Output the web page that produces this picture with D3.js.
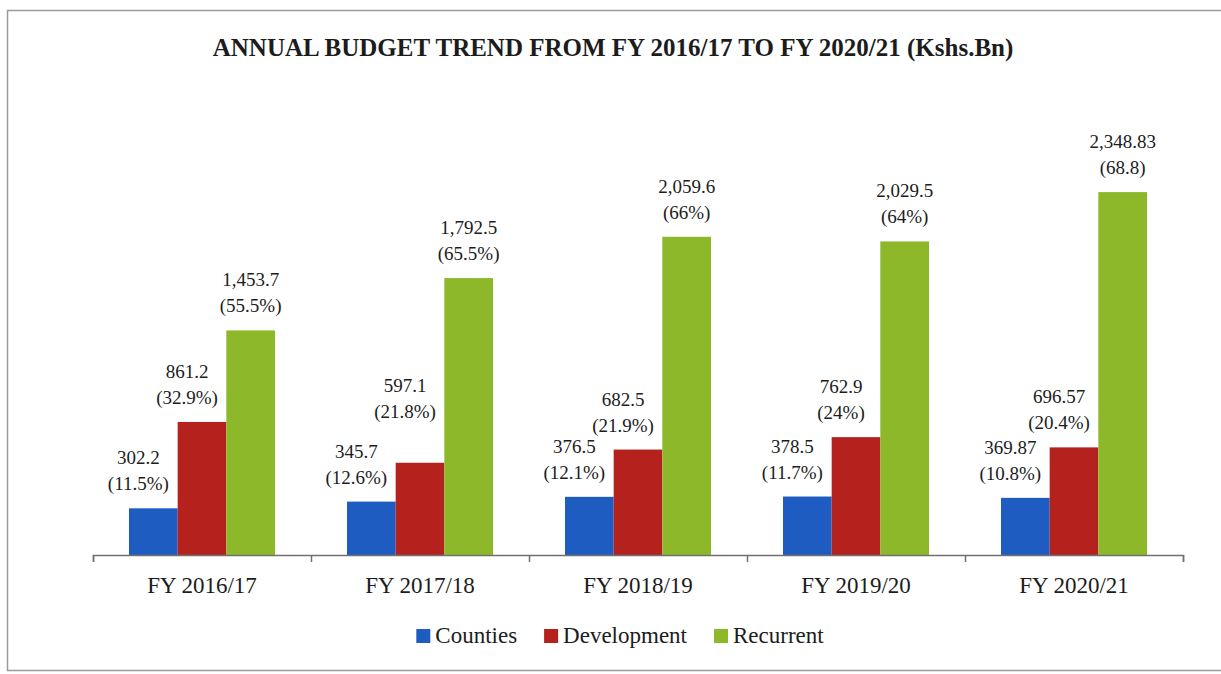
<!DOCTYPE html>
<html>
<head>
<meta charset="utf-8">
<script src="https://cdn.jsdelivr.net/npm/d3@7"></script>
<style>
  html, body { margin: 0; padding: 0; background: #fff; }
  svg { display: block; }
  text { font-family: "Liberation Serif", "DejaVu Serif", serif; fill: #1c1c1c; }
</style>
</head>
<body>
<svg id="chart" width="1221" height="674"></svg>
<script>
const years = ["FY 2016/17", "FY 2017/18", "FY 2018/19", "FY 2019/20", "FY 2020/21"];
const seriesNames = ["Counties", "Development", "Recurrent"];
const counties = [302.2, 345.7, 376.5, 378.5, 369.87];
const development = [861.2, 597.1, 682.5, 762.9, 696.57];
const recurrent = [1453.7, 1792.5, 2059.6, 2029.5, 2348.83];
const countiesLabels = ["302.2", "345.7", "376.5", "378.5", "369.87"];
const developmentLabels = ["861.2", "597.1", "682.5", "762.9", "696.57"];
const recurrentLabels = ["1,453.7", "1,792.5", "2,059.6", "2,029.5", "2,348.83"];
const countiesPct = ["(11.5%)", "(12.6%)", "(12.1%)", "(11.7%)", "(10.8%)"];
const developmentPct = ["(32.9%)", "(21.8%)", "(21.9%)", "(24%)", "(20.4%)"];
const recurrentPct = ["(55.5%)", "(65.5%)", "(66%)", "(64%)", "(68.8)"];
const colors = ["#1f5cc2", "#b5221e", "#8cb82a"];
const title = "ANNUAL BUDGET TREND FROM FY 2016/17 TO FY 2020/21 (Kshs.Bn)";

const values = [counties, development, recurrent];
const labels = [countiesLabels, developmentLabels, recurrentLabels];
const pcts = [countiesPct, developmentPct, recurrentPct];

const svg = d3.select("#chart");

// frame
svg.append("path")
  .attr("d", "M1225,10.5 H7.5 V670.5 H1225")
  .attr("fill", "none").attr("stroke", "#9a9a9a").attr("stroke-width", 1.5);

svg.append("text")
  .attr("x", 613).attr("y", 56)
  .attr("text-anchor", "middle")
  .attr("font-weight", "bold")
  .attr("font-size", 25)
  .text(title);

const axisY = 555;
const x0 = d3.scaleBand().domain(years).range([93, 1183]).paddingInner(0).paddingOuter(0);
const x1 = d3.scaleBand().domain(seriesNames).range([0, x0.bandwidth()]).paddingInner(0).paddingOuter(0.74);
const y = d3.scaleLinear().domain([0, 2600]).range([axisY, axisY - 2600 * 0.1545]);

const rows = years.map((yr, i) => ({
  year: yr,
  items: seriesNames.map((s, j) => ({ s, j, v: values[j][i], lab: labels[j][i], pct: pcts[j][i] }))
}));

const g = svg.append("g");
const grp = g.selectAll("g.grp").data(rows).join("g")
  .attr("class", "grp")
  .attr("transform", d => `translate(${x0(d.year)},0)`);

grp.selectAll("rect").data(d => d.items).join("rect")
  .attr("x", d => x1(d.s))
  .attr("y", d => y(d.v))
  .attr("width", x1.bandwidth())
  .attr("height", d => axisY - y(d.v))
  .attr("fill", d => colors[d.j]);

// labels
grp.each(function(d) {
  const gg = d3.select(this);
  const cTop = y(d.items[0].v);
  d.items.forEach(it => {
    const top = y(it.v);
    let lift = 0;
    if (it.j === 1 && (top - 18) > (cTop - 44 - 15)) lift = 27;
    const dx = it.j === 2 ? 0 : -15;
    const cx = x1(it.s) + x1.bandwidth() / 2 + dx;
    gg.append("text")
      .attr("x", cx).attr("y", top - 44 - lift)
      .attr("text-anchor", "middle").attr("font-size", 19)
      .text(it.lab);
    gg.append("text")
      .attr("x", cx).attr("y", top - 18 - lift)
      .attr("text-anchor", "middle").attr("font-size", 19)
      .text(it.pct);
  });
});

// axis line with boundary ticks
const boundary = d3.scaleLinear().domain([0, years.length]).range([93, 1183]);
const axisG = svg.append("g").attr("transform", `translate(0,${axisY})`)
  .call(d3.axisBottom(boundary).ticks(years.length).tickSize(7).tickSizeOuter(7).tickFormat(""));
axisG.selectAll("path, line").attr("stroke", "#707070").attr("stroke-width", 1.5);

// category labels
const labAxis = svg.append("g").attr("transform", `translate(0,${axisY})`)
  .call(d3.axisBottom(x0).tickSize(0).tickPadding(22));
labAxis.select(".domain").remove();
labAxis.selectAll("text")
  .attr("font-family", "Liberation Serif, serif")
  .attr("font-size", 23).attr("fill", "#1c1c1c");

// legend
const leg = svg.append("g").attr("class", "legend");
let lx = 0;
seriesNames.forEach((s, j) => {
  const it = leg.append("g").attr("transform", `translate(${lx},0)`);
  it.append("rect").attr("x", 0).attr("y", 629).attr("width", 14).attr("height", 14).attr("fill", colors[j]);
  const t = it.append("text").attr("x", 19).attr("y", 643).attr("font-size", 23).text(s);
  const w = t.node().getComputedTextLength();
  lx += 19 + w + 27;
});
const totalW = lx - 27;
leg.attr("transform", `translate(${620 - totalW / 2},0)`);
</script>
</body>
</html>
